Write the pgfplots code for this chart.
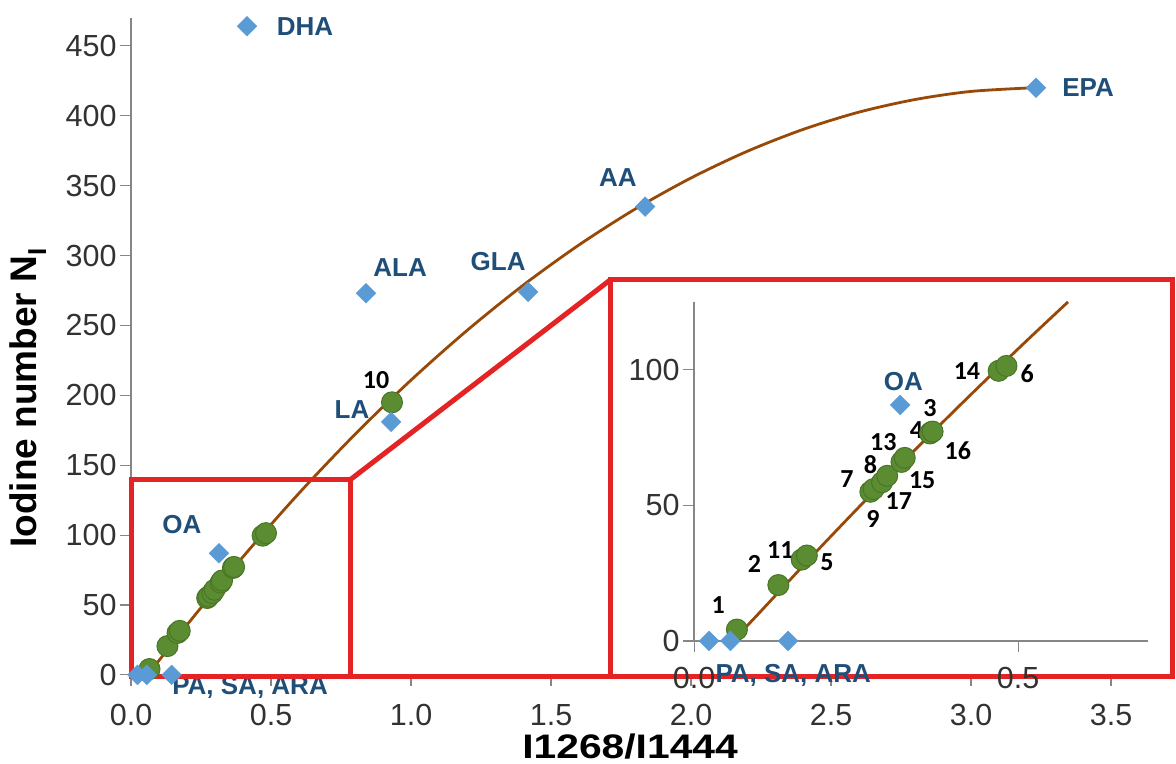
\documentclass[border=0pt]{standalone}
\usepackage{fontspec}
\setmainfont{Liberation Sans}
\newfontfamily\calibri{Carlito}
\usepackage{pgfplots}
\pgfplotsset{compat=1.18}
\definecolor{tickc}{RGB}{50,50,50}
\definecolor{axisgray}{RGB}{134,134,134}
\definecolor{lblue}{RGB}{91,155,213}
\definecolor{dblue}{RGB}{31,78,121}
\definecolor{gfill}{RGB}{92,140,50}
\definecolor{gedge}{RGB}{72,118,38}
\definecolor{brownl}{RGB}{152,72,7}
\definecolor{redr}{RGB}{228,36,36}
\tikzset{
  lbl/.style={font=\bfseries\fontsize{26}{26}\selectfont, text=dblue},
  num/.style={font=\calibri\bfseries\fontsize{26}{26}\selectfont, text=black},
}
\pgfplotsset{
  common/.style={
    scale only axis, clip=false,
    axis x line*=bottom, axis y line*=left,
    axis line style={axisgray, line width=1.4pt},
    tick style={axisgray, line width=1.2pt},
    major tick length=11pt,
    tick align=outside,
    ticklabel style={font=\fontsize{30.5}{30.5}\selectfont, text=tickc},
    xticklabel style={yshift=-15pt, /pgf/number format/fixed, /pgf/number format/fixed zerofill, /pgf/number format/precision=1, /pgf/number format/assume math mode=true},
    yticklabel style={/pgf/number format/assume math mode=true},
  },
  greenpts/.style={only marks, mark=*, mark size=10.5pt, mark options={fill=gfill, draw=gedge, line width=1pt}},
  bluepts/.style={only marks, mark=square*, mark size=7pt, mark options={rotate=45, fill=lblue, draw=lblue}},
  curve/.style={brownl, line width=2.8pt, smooth, no marks},
}
\begin{document}
\begin{tikzpicture}
\begin{axis}[common,
  width=1036pt, height=657pt,
  xmin=0, xmax=3.7, ymin=0, ymax=470,
  xtick={0,0.5,1,1.5,2,2.5,3,3.5}, ytick={0,50,100,150,200,250,300,350,400,450},
  xlabel={I1268/I1444},
  xlabel style={font=\bfseries\fontsize{34}{34}\selectfont, at={(axis description cs:0.4817,-0.109)}, anchor=center, xscale=1.2},
  ylabel={Iodine number N\textsubscript{I}},
  ylabel style={font=\bfseries\fontsize{37}{37}\selectfont, at={(axis description cs:-0.0994,0.4216)}, anchor=center},
]
\addplot[greenpts] coordinates {
(0.066,4.2) (0.130,20.6) (0.166,30.0) (0.174,31.5) (0.272,55.0) (0.277,56.0)
(0.290,58.5) (0.298,60.9) (0.320,66.0) (0.325,67.5) (0.366,77.0) (0.364,76.5)
(0.368,77.2) (0.470,99.6) (0.482,101.4) (0.932,195)};
\addplot[bluepts] coordinates {
(0.414,464) (0.839,273) (1.418,274) (1.836,335) (3.232,420) (0.929,181)
(0.314,87) (0.023,0) (0.056,0) (0.145,0)};
\addplot[curve] coordinates {
(0.06,0) (0.2,35.8) (0.4,84.5) (0.6,130) (0.8,172.1) (1.0,210.9) (1.2,246.4)
(1.4,278.7) (1.6,307.6) (1.8,333.2) (2.0,355.5) (2.2,374.5) (2.4,390.2)
(2.6,402.6) (2.8,411.6) (3.0,417.4) (3.22,420)};
\node[lbl] at (axis cs:0.621,463.5) {DHA};
\node[lbl] at (axis cs:0.961,291.1) {ALA};
\node[lbl] at (axis cs:1.311,295.4) {GLA};
\node[lbl] at (axis cs:1.739,355.5) {AA};
\node[lbl] at (axis cs:3.418,419.9) {EPA};
\node[lbl] at (axis cs:0.789,189.6) {LA};
\node[lbl] at (axis cs:0.182,107.3) {OA};
\node[lbl] at (axis cs:0.425,-9.3) {PA, SA, ARA};
\node[num] at (axis cs:0.875,211.0) {10};
\coordinate (bbtl) at (axis cs:-0.468,482.8);
\coordinate (bbbr) at (axis cs:3.732,-63.7);
\coordinate (insorig) at (axis cs:2.011,24.3);
\draw[redr, line width=5pt] (axis cs:0,-1) rectangle (axis cs:0.782,139.5);
\fill[white] (axis cs:1.711,-1) rectangle (axis cs:3.721,282.5);
\draw[redr, line width=5pt] (axis cs:1.711,-1) rectangle (axis cs:3.721,282.5);
\draw[redr, line width=5pt] (axis cs:0.782,139.5) -- (axis cs:1.711,282.5);
\draw[redr, line width=5pt] (axis cs:0.782,-1) -- (axis cs:1.711,-1);
\end{axis}
\begin{axis}[common,
  at={(insorig)}, anchor=south west,
  width=453.6pt, height=339pt,
  xmin=0, xmax=0.7, ymin=0, ymax=125,
  xtick={0,0.5}, ytick={0,50,100},
  xticklabel style={yshift=3pt},
]
\addplot[greenpts] coordinates {
(0.066,4.2) (0.130,20.6) (0.166,30.0) (0.174,31.5) (0.272,55.0) (0.277,56.0)
(0.290,58.5) (0.298,60.9) (0.320,66.0) (0.325,67.5) (0.366,77.0) (0.364,76.5)
(0.368,77.2) (0.470,99.6) (0.482,101.4)};
\addplot[bluepts] coordinates {(0.318,87) (0.023,0) (0.056,0) (0.145,0)};
\addplot[curve] coordinates {
(0.06,0) (0.1,10.2) (0.2,35.8) (0.3,60.6) (0.4,84.5) (0.5,107.7) (0.577,125)};
\node[num] at (axis cs:0.037,13.3) {1};
\node[num] at (axis cs:0.093,28.4) {2};
\node[num] at (axis cs:0.133,33.6) {11};
\node[num] at (axis cs:0.205,29.2) {5};
\node[num] at (axis cs:0.236,59.8) {7};
\node[num] at (axis cs:0.272,64.9) {8};
\node[num] at (axis cs:0.292,73.4) {13};
\node[num] at (axis cs:0.276,45.0) {9};
\node[num] at (axis cs:0.316,51.7) {17};
\node[num] at (axis cs:0.352,59.4) {15};
\node[num] at (axis cs:0.364,86.0) {3};
\node[num] at (axis cs:0.343,77.9) {4};
\node[num] at (axis cs:0.407,70.1) {16};
\node[num] at (axis cs:0.421,99.6) {14};
\node[num] at (axis cs:0.514,98.5) {6};
\node[lbl] at (axis cs:0.323,95.6) {OA};
\node[lbl] at (axis cs:0.153,-12.9) {PA, SA, ARA};
\end{axis}
\pgfresetboundingbox
\path[use as bounding box] (bbtl) rectangle (bbbr);
\end{tikzpicture}
\end{document}
